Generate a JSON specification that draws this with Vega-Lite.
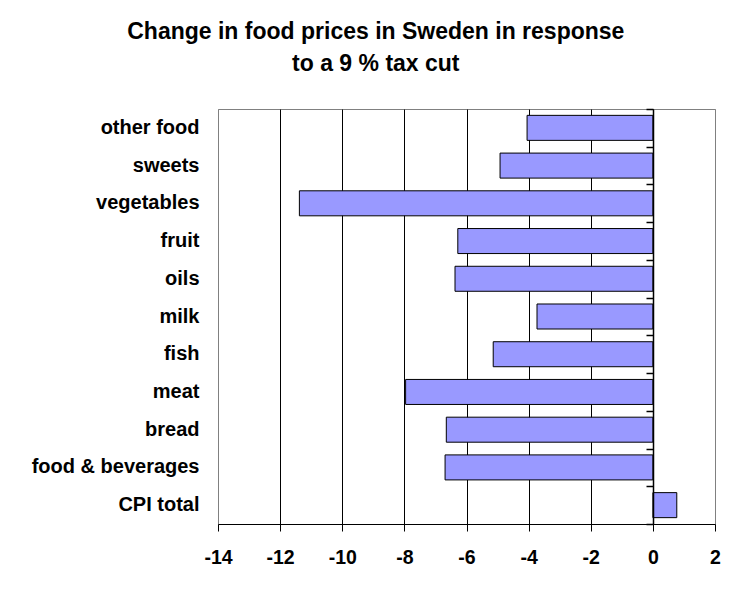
{
  "$schema": "https://vega.github.io/schema/vega-lite/v6.json",
  "width": 497,
  "height": 415,
  "autosize": {"type": "none"},
  "padding": {"left": 218, "top": 109, "right": 29, "bottom": 68},
  "background": "white",
  "config": {"view": {"stroke": "#808080", "strokeWidth": 1}},
  "title": {
    "text": ["Change in food prices in Sweden  in response", "to a 9 % tax cut"],
    "font": "Liberation Sans",
    "fontSize": 23,
    "fontWeight": "bold",
    "color": "black",
    "anchor": "middle",
    "frame": "bounds",
    "lineHeight": 32,
    "offset": 32
  },
  "data": {
    "values": [
      {"category": "other food", "change": -4.05},
      {"category": "sweets", "change": -4.92},
      {"category": "vegetables", "change": -11.38},
      {"category": "fruit", "change": -6.28},
      {"category": "oils", "change": -6.37},
      {"category": "milk", "change": -3.73},
      {"category": "fish", "change": -5.14},
      {"category": "meat", "change": -7.96},
      {"category": "bread", "change": -6.65},
      {"category": "food & beverages", "change": -6.69},
      {"category": "CPI total", "change": 0.77}
    ]
  },
  "resolve": {"scale": {"y": "independent"}, "axis": {"y": "independent"}},
  "layer": [
    {
      "mark": {"type": "bar", "fill": "#9999ff", "stroke": "black", "strokeWidth": 1},
      "encoding": {
        "y": {
          "field": "category",
          "type": "nominal",
          "sort": null,
          "scale": {"paddingInner": 0.337, "paddingOuter": 0.1685},
          "axis": {
            "orient": "left",
            "title": null,
            "ticks": false,
            "domain": false,
            "grid": false,
            "labelPadding": 19,
            "labelFont": "Liberation Sans",
            "labelFontSize": 20,
            "labelFontWeight": "bold",
            "labelColor": "black"
          }
        },
        "x": {
          "field": "change",
          "type": "quantitative",
          "scale": {"domain": [-14, 2], "nice": false, "zero": false},
          "axis": {
            "title": null,
            "values": [-14, -12, -10, -8, -6, -4, -2, 0, 2],
            "labelExpr": "datum.value < 0 ? '-' + abs(datum.value) : '' + datum.value",
            "grid": true,
            "gridColor": {"condition": {"test": "datum.value == -14 || datum.value == 2", "value": "#808080"}, "value": "black"},
            "gridWidth": 1,
            "domainColor": "black",
            "tickColor": "black",
            "tickSize": 7,
            "labelFlush": false,
            "labelPadding": 17,
            "labelFont": "Liberation Sans",
            "labelFontSize": 19.5,
            "labelFontWeight": "bold",
            "labelColor": "black"
          }
        }
      }
    },
    {
      "mark": {"type": "bar", "opacity": 0},
      "encoding": {
        "y": {
          "field": "category",
          "type": "nominal",
          "sort": null,
          "scale": {"paddingInner": 0, "paddingOuter": 0},
          "axis": {
            "orient": "left",
            "offset": -435,
            "zindex": 1,
            "title": null,
            "labels": false,
            "grid": false,
            "ticks": true,
            "tickBand": "extent",
            "tickSize": 7,
            "tickWidth": 1.5,
            "tickColor": "black",
            "domainColor": "black",
            "domainWidth": 1.5
          }
        },
        "x": {"field": "change", "type": "quantitative"}
      }
    }
  ]
}
